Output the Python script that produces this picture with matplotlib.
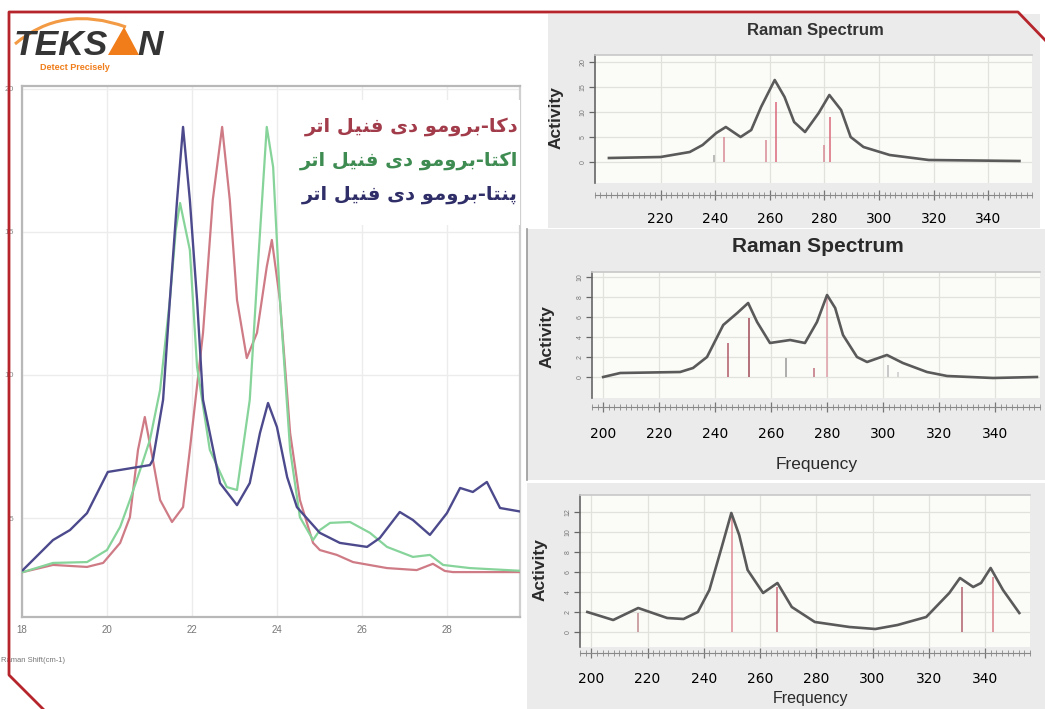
import matplotlib
matplotlib.use('Agg')
import matplotlib.pyplot as plt
from matplotlib.patches import Rectangle, Polygon, PathPatch
from matplotlib.path import Path
from matplotlib.lines import Line2D

plt.rcParams['font.family'] = ['DejaVu Sans']

# ---------------- data: left overlay chart ----------------
x_ticks_left = [180, 200, 220, 240, 260, 280]
x_ticklabels_left = ['18', '20', '22', '24', '26', '28']
y_ticks_left = [5, 10, 15, 20]
y_ticklabels_left = ['5', '10', '15', '20']

deca_x = [180.2, 187.3, 195.3, 199.1, 203.1, 205.4, 207.3, 208.9, 210.8, 212.5, 215.3, 217.9,
          219.5, 222.6, 224.9, 227.1, 228.9, 230.6, 232.9, 235.3, 237.6, 238.8, 240.7, 243.1,
          245.4, 248.5, 250.1, 254.1, 257.9, 265.9, 272.9, 276.7, 279.5, 281.4, 297.9]
deca_y = [3.11, 3.36, 3.29, 3.43, 4.13, 5.03, 7.38, 8.53, 7.03, 5.63, 4.86, 5.38,
          7.38, 11.47, 16.12, 18.67, 16.12, 12.62, 10.59, 11.47, 13.78, 14.72, 12.62, 7.97,
          5.63, 4.13, 3.88, 3.71, 3.46, 3.25, 3.18, 3.40, 3.15, 3.11, 3.11]

octa_x = [180.2, 187.3, 195.3, 200.0, 203.1, 205.4, 207.8, 210.1, 212.5, 214.8, 216.2, 217.2,
          219.5, 221.2, 224.2, 228.2, 230.6, 233.6, 235.5, 237.6, 239.1, 240.7, 243.1, 245.4,
          248.5, 250.1, 252.5, 257.2, 261.9, 265.9, 272.0, 276.0, 279.1, 285.4, 297.9]
octa_y = [3.11, 3.43, 3.46, 3.88, 4.69, 5.63, 6.68, 7.73, 9.48, 12.62, 15.07, 16.01,
          14.37, 10.28, 7.38, 6.08, 5.98, 9.13, 13.78, 18.67, 17.27, 12.62, 7.38, 5.03,
          4.23, 4.58, 4.83, 4.86, 4.48, 3.99, 3.64, 3.71, 3.36, 3.25, 3.15]

penta_x = [180.2, 187.3, 191.3, 195.3, 200.2, 203.1, 210.1, 210.8, 213.2, 214.8, 216.5, 217.9,
           219.5, 221.2, 222.6, 226.6, 230.6, 233.6, 236.0, 237.9, 240.0, 242.4, 244.7, 250.1,
           254.8, 261.2, 264.2, 268.9, 272.0, 276.0, 280.0, 283.1, 286.1, 289.4, 292.5, 297.9]
penta_y = [3.18, 4.23, 4.58, 5.17, 6.61, 6.68, 6.85, 7.03, 9.13, 12.62, 16.12, 18.67,
           16.12, 12.62, 9.13, 6.22, 5.45, 6.22, 7.97, 9.02, 8.18, 6.43, 5.38, 4.48,
           4.13, 3.99, 4.30, 5.21, 4.93, 4.41, 5.17, 6.05, 5.91, 6.26, 5.35, 5.21]

legend_labels = ['دکا-برومو دی فنیل اتر', 'اکتا-برومو دی فنیل اتر', 'پنتا-برومو دی فنیل اتر']

# ---------------- data: Raman spectrum panels ----------------
freq_ticks = [220, 240, 260, 280, 300, 320, 340]
freq_ticks_full = [200, 220, 240, 260, 280, 300, 320, 340]

p1_freq = [201.1, 220.0, 230.7, 235.4, 240.4, 243.9, 249.3, 253.2, 256.8, 261.8, 265.4, 268.9,
           272.9, 277.9, 281.8, 286.1, 289.6, 294.3, 303.9, 318.2, 351.4]
p1_act = [0.8, 1.0, 2.0, 3.4, 5.8, 7.0, 5.0, 6.4, 11.0, 16.4, 13.0, 8.0,
          6.0, 9.8, 13.4, 10.4, 5.0, 3.0, 1.4, 0.4, 0.2]
p1_stick_freq = [239.6, 243.2, 258.6, 262.1, 280.0, 282.1]
p1_stick_act = [1.4, 5.0, 4.4, 12.0, 3.4, 9.0]

p2_freq = [200.0, 206.1, 227.5, 232.1, 237.1, 242.9, 247.9, 251.8, 255.0, 259.6, 266.8, 272.1,
           276.4, 280.0, 282.9, 285.7, 290.7, 294.3, 301.4, 307.1, 315.7, 322.9, 339.3, 355.0]
p2_act = [0.0, 0.4, 0.5, 0.9, 2.0, 5.2, 6.4, 7.4, 5.5, 3.4, 3.7, 3.4,
          5.5, 8.2, 6.9, 4.2, 2.0, 1.5, 2.2, 1.4, 0.5, 0.1, -0.1, 0.0]
p2_stick_freq = [244.6, 252.0, 265.4, 275.4, 280.0, 301.8, 305.4]
p2_stick_act = [3.4, 5.9, 1.9, 0.9, 7.9, 1.2, 0.5]

p3_freq = [198.6, 207.8, 216.7, 227.0, 232.8, 237.9, 242.0, 246.4, 249.8, 252.6, 255.6, 261.1,
           266.2, 271.3, 279.5, 291.8, 301.0, 308.9, 319.1, 327.3, 331.1, 335.8, 338.6, 342.0,
           346.4, 352.2]
p3_act = [2.0, 1.2, 2.4, 1.4, 1.3, 2.0, 4.2, 8.5, 11.9, 9.7, 6.2, 3.9,
          4.9, 2.5, 1.0, 0.5, 0.3, 0.7, 1.5, 3.9, 5.4, 4.5, 4.9, 6.4,
          4.2, 1.9]
p3_stick_freq = [216.7, 250.0, 266.0, 331.7, 342.7]
p3_stick_act = [1.9, 11.9, 4.5, 4.5, 5.5]

# ---------------- helpers ----------------
W, H = 1045, 709
fig = plt.figure(figsize=(W / 100, H / 100), dpi=100)
fig.patch.set_facecolor('white')


def ax_px(x0, y0, x1, y1):
    return fig.add_axes([x0 / W, 1 - y1 / H, (x1 - x0) / W, (y1 - y0) / H])


def rect_px(x0, y0, x1, y1, **kw):
    fig.patches.append(Rectangle((x0 / W, 1 - y1 / H), (x1 - x0) / W, (y1 - y0) / H,
                                 transform=fig.transFigure, figure=fig, **kw))


def fp(x, y):
    return (x / W, 1 - y / H)


FORMS = {
    '\u0627': ('\uFE8D', '\uFE8E', None, None),
    '\u0628': ('\uFE8F', '\uFE90', '\uFE91', '\uFE92'),
    '\u062A': ('\uFE95', '\uFE96', '\uFE97', '\uFE98'),
    '\u062F': ('\uFEA9', '\uFEAA', None, None),
    '\u0631': ('\uFEAD', '\uFEAE', None, None),
    '\u0641': ('\uFED1', '\uFED2', '\uFED3', '\uFED4'),
    '\u0644': ('\uFEDD', '\uFEDE', '\uFEDF', '\uFEE0'),
    '\u0645': ('\uFEE1', '\uFEE2', '\uFEE3', '\uFEE4'),
    '\u0646': ('\uFEE5', '\uFEE6', '\uFEE7', '\uFEE8'),
    '\u0648': ('\uFEED', '\uFEEE', None, None),
    '\u067E': ('\uFB56', '\uFB57', '\uFB58', '\uFB59'),
    '\u06A9': ('\uFB8E', '\uFB8F', '\uFB90', '\uFB91'),
    '\u06CC': ('\uFBFC', '\uFBFD', '\uFBFE', '\uFBFF'),
}


def shape_rtl(s):
    out = []
    for i, c in enumerate(s):
        if c not in FORMS:
            out.append(c)
            continue
        f = FORMS[c]
        prev = s[i - 1] if i > 0 else ''
        nxt = s[i + 1] if i + 1 < len(s) else ''
        jp = prev in FORMS and FORMS[prev][2] is not None
        jn = f[2] is not None and nxt in FORMS
        if jp and jn:
            g = f[3]
        elif jp:
            g = f[1]
        elif jn:
            g = f[2]
        else:
            g = f[0]
        out.append(g)
    return ''.join(reversed(out))


LAT = ['Liberation Sans', 'DejaVu Sans']

# panel backgrounds (behind everything)
rect_px(548, 14, 1040, 228, facecolor='#ebebeb', edgecolor='none', zorder=-10)
rect_px(527, 229, 1045, 480, facecolor='#ebebeb', edgecolor='none', zorder=-10)
rect_px(527, 483, 1045, 709, facecolor='#ebebeb', edgecolor='none', zorder=-10)
fig.lines.append(Line2D([527 / W, 527 / W], [1 - 229 / H, 1 - 480 / H], transform=fig.transFigure,
                        color='#9a9a9a', lw=1.2, zorder=-5))

# ---------------- left overlay chart ----------------
ax = ax_px(22, 86, 520, 617)
ax.set_xlim(180, 297.2)
ax.set_ylim(1.54, 20.1)
ax.grid(True, color='#ececec', lw=1.0)
ax.set_axisbelow(True)
ax.plot(deca_x, deca_y, color='#cf7b86', lw=1.6, zorder=3)
ax.plot(octa_x, octa_y, color='#86d49a', lw=1.6, zorder=3)
ax.plot(penta_x, penta_y, color='#4c4a8c', lw=1.7, zorder=4)
ax.set_xticks(x_ticks_left)
ax.set_xticklabels(x_ticklabels_left, fontsize=7, color='#777777', family=LAT)
ax.set_yticks(y_ticks_left)
ax.set_yticklabels(y_ticklabels_left, fontsize=6, color='#888888', family=LAT)
ax.tick_params(length=0, pad=6)
for s in ax.spines.values():
    s.set_color('#b8b8b8')
    s.set_linewidth(1.6)
ax.spines['right'].set_color('#d0d0d0')

# legend box
ax.add_patch(Rectangle(fp(300, 225), (530 - 300) / W, (225 - 100) / H,
                       transform=fig.transFigure, facecolor='white', edgecolor='none', zorder=5))
leg_colors = ['#a23b4a', '#3e8c52', '#2f2e68']
for lab, col, yy in zip(legend_labels, leg_colors, [127, 161, 195]):
    fig.text(518 / W, 1 - yy / H, shape_rtl(lab), ha='right', va='center',
             fontsize=14, fontweight='bold', color=col, family=['DejaVu Sans'], zorder=10)

fig.text(1 / W, 1 - 660 / H, 'Raman Shift(cm-1)', ha='left', va='center',
         fontsize=5.5, color='#777777', family=LAT)


# ---------------- Raman panels ----------------
def raman_panel(box, xlim, ylim, freq, act, sfreq, sact, scols, xt, yt, out_px, lab_pad):
    a = ax_px(*box)
    a.set_facecolor('#fbfbf7')
    a.set_xlim(*xlim)
    a.set_ylim(*ylim)
    a.grid(True, color='#e2e2dc', lw=0.9)
    a.set_axisbelow(True)
    a.vlines(sfreq, 0, sact, colors=scols, lw=1.1, zorder=2)
    a.plot(freq, act, color='#5a5a5a', lw=1.9, zorder=3)
    a.set_xticks(xt)
    a.set_xticklabels([str(v) for v in xt], fontsize=8, color='#5a5a5a', family=LAT)
    a.set_xticks([v for v in range(196, 358, 2)], minor=True)
    a.set_yticks(yt)
    a.set_yticklabels([str(v) for v in yt], fontsize=5, color='#777777', rotation=90,
                      va='center', family=LAT)
    a.tick_params(axis='x', which='major', direction='inout', length=7, width=0.9,
                  color='#777777', pad=lab_pad)
    a.tick_params(axis='x', which='minor', direction='inout', length=5, width=0.6,
                  color='#888888')
    a.tick_params(axis='y', which='major', direction='out', length=4, width=0.9,
                  color='#666666', pad=2)
    a.spines['bottom'].set_position(('outward', out_px * 0.72))
    a.spines['bottom'].set_color('#888888')
    a.spines['left'].set_color('#666666')
    a.spines['left'].set_linewidth(1.2)
    a.spines['right'].set_visible(False)
    a.spines['top'].set_color('#c8c8c8')
    a.spines['top'].set_linewidth(1.2)
    return a


p1 = raman_panel((595, 55, 1032, 183), (198.6, 354.6), (-4.2, 21.4), p1_freq, p1_act,
                 p1_stick_freq, p1_stick_act,
                 ['#aaaaaa', '#d88a96', '#d88a96', '#d86a7a', '#d88a96', '#d86a7a'],
                 freq_ticks, [0, 5, 10, 15, 20], 12, 9)
p2 = raman_panel((592, 272, 1040, 398), (196.1, 356.1), (-2.1, 10.5), p2_freq, p2_act,
                 p2_stick_freq, p2_stick_act,
                 ['#b05a68', '#a04a58', '#999999', '#c07080', '#e0a0aa', '#bbbbbb', '#cccccc'],
                 freq_ticks_full, [0, 2, 4, 6, 8, 10], 9, 11)
p3 = raman_panel((580, 495, 1030, 647), (198.6, 352.2), (-1.5, 13.7), p3_freq, p3_act,
                 p3_stick_freq, p3_stick_act,
                 ['#c08a90', '#e08a96', '#c86a78', '#b06070', '#d87a88'],
                 freq_ticks_full, [0, 2, 4, 6, 8, 10, 12], 6, 10)

fig.text(815 / W, 1 - 30 / H, 'Raman Spectrum', ha='center', va='center', fontsize=12,
         fontweight='bold', color='#333333', family=LAT)
fig.text(818 / W, 1 - 247 / H, 'Raman Spectrum', ha='center', va='center', fontsize=15,
         fontweight='bold', color='#2a2a2a', family=LAT)
for (xx, yy) in [(556, 118), (547, 337), (540, 570)]:
    fig.text(xx / W, 1 - yy / H, 'Activity', ha='center', va='center', rotation=90,
             fontsize=12.5, fontweight='bold', color='#2a2a2a', family=LAT)
fig.text(817 / W, 1 - 464 / H, 'Frequency', ha='center', va='center', fontsize=12.5,
         color='#2a2a2a', family=LAT)
fig.text(810 / W, 1 - 699 / H, 'Frequency', ha='center', va='center', fontsize=11.5,
         color='#2a2a2a', family=LAT)

# ---------------- logo ----------------
sw = Path([fp(15, 44), fp(62, 4), fp(126, 27)], [Path.MOVETO, Path.CURVE3, Path.CURVE3])
fig.patches.append(PathPatch(sw, transform=fig.transFigure, facecolor='none',
                             edgecolor='#f39a45', lw=2.2, figure=fig))
fig.text(14 / W, 1 - 55 / H, 'TEKS', ha='left', va='baseline', fontsize=25.5, fontweight='bold',
         style='italic', color='#353535', family=LAT)
fig.patches.append(Polygon([fp(108, 55), fp(124, 27), fp(139, 55)], closed=True,
                           transform=fig.transFigure, facecolor='#f07d1a', edgecolor='none',
                           figure=fig))
fig.text(137 / W, 1 - 55 / H, 'N', ha='left', va='baseline', fontsize=25.5, fontweight='bold',
         style='italic', color='#353535', family=LAT)
fig.text(40 / W, 1 - 68 / H, 'Detect Precisely', ha='left', va='center', fontsize=6.5,
         fontweight='bold', color='#f07d1a', family=LAT)

# ---------------- red frame ----------------
fx = [43, 9, 9, 1018, 1045]
fy = [709, 675, 12, 12, 40]
fig.lines.append(Line2D([v / W for v in fx], [1 - v / H for v in fy], transform=fig.transFigure,
                        color='#b5252b', lw=2.0, zorder=20))

fig.savefig('out.png', dpi=100)
